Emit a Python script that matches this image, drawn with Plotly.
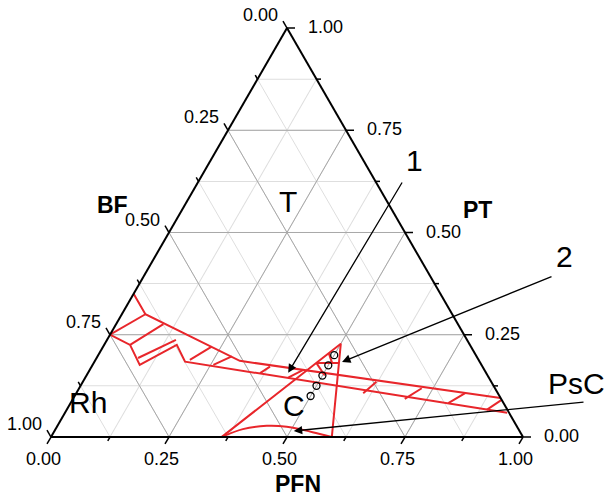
import plotly.graph_objects as go

# ---------------- axis ticks ----------------
grid_vals = [0, 0.125, 0.25, 0.375, 0.5, 0.625, 0.75, 0.875, 1.0]
label_vals = [0, 0.25, 0.5, 0.75, 1.0]
label_text = ["0.00", "0.25", "0.50", "0.75", "1.00"]
major_vals = [0.25, 0.5, 0.75]

# ---------------- data (a = PT, c = PFN, BF = 1 - PT - PFN) ----------------
# hatched band (region "1")
band_upper_PT = [0.35, 0.30, 0.186, 0.095]
band_upper_PFN = [0.0, 0.05, 0.307, 0.905]
band_lower_PT = [0.25, 0.225, 0.176, 0.225, 0.184, 0.059]
band_lower_PFN = [0.0, 0.055, 0.10, 0.154, 0.192, 0.937]
hatch_start_PT = [0.30, 0.225, 0.193, 0.1885, 0.176, 0.156, 0.145, 0.107, 0.093, 0.0825, 0.066]
hatch_start_PFN = [0.05, 0.055, 0.088, 0.200, 0.256, 0.365, 0.430, 0.608, 0.703, 0.8005, 0.890]
hatch_end_PT = [0.25, 0.276, 0.2375, 0.221, 0.197, 0.172, 0.164, 0.135, 0.119, 0.107, 0.0905]
hatch_end_PFN = [0.0, 0.10, 0.146, 0.230, 0.2845, 0.378, 0.4525, 0.622, 0.726, 0.824, 0.9095]

# triangle region "C" and its small hatched cap
tri_PT = [0.0, 0.228, 0.0]
tri_PFN = [0.362, 0.50, 0.595]
cap_start_PT = [0.181, 0.205, 0.181]
cap_start_PFN = [0.4716, 0.486, 0.4716]
cap_end_PT = [0.181, 0.181, 0.150]
cap_end_PFN = [0.5196, 0.505, 0.505]

# PsC curve
psc_PT = [0.0, 0.019, 0.027, 0.025, 0.019, 0.007, 0.0]
psc_PFN = [0.362, 0.397, 0.4435, 0.487, 0.518, 0.566, 0.595]

# compositions (open circles)
pts_PT = [0.10, 0.125, 0.15, 0.175, 0.20]
pts_PFN = [0.5, 0.5, 0.5, 0.5, 0.5]

RED = "#e8262b"
FONT = "Liberation Sans, Arial, sans-serif"

fig = go.Figure()


def join_segments(s_a, s_c, e_a, e_c):
    A, C = [], []
    for a0, c0, a1, c1 in zip(s_a, s_c, e_a, e_c):
        A += [a0, a1, None]
        C += [c0, c1, None]
    return A, C


# major grid lines (from the tick values)
gA, gB, gC = [], [], []
for v in major_vals:
    gA += [v, v, None, 1 - v, 0, None, 1 - v, 0, None]
    gB += [1 - v, 0, None, v, v, None, 0, 1 - v, None]
    gC += [0, 1 - v, None, 0, 1 - v, None, v, v, None]
fig.add_trace(go.Scatterternary(a=gA, b=gB, c=gC, mode="lines",
                                line=dict(color="#a8a8a8", width=1),
                                hoverinfo="skip", showlegend=False))

line_style = dict(color=RED, width=2)
fig.add_trace(go.Scatterternary(a=band_upper_PT, c=band_upper_PFN, mode="lines",
                                line=line_style, showlegend=False))
fig.add_trace(go.Scatterternary(a=band_lower_PT, c=band_lower_PFN, mode="lines",
                                line=line_style, showlegend=False))
hA, hC = join_segments(hatch_start_PT, hatch_start_PFN, hatch_end_PT, hatch_end_PFN)
fig.add_trace(go.Scatterternary(a=hA, c=hC, mode="lines", line=line_style,
                                connectgaps=False, showlegend=False))
fig.add_trace(go.Scatterternary(a=tri_PT, c=tri_PFN, mode="lines",
                                line=line_style, showlegend=False))
kA, kC = join_segments(cap_start_PT, cap_start_PFN, cap_end_PT, cap_end_PFN)
fig.add_trace(go.Scatterternary(a=kA, c=kC, mode="lines", line=line_style,
                                connectgaps=False, showlegend=False))
fig.add_trace(go.Scatterternary(a=psc_PT, c=psc_PFN, mode="lines",
                                line=dict(color=RED, width=2, shape="spline"),
                                showlegend=False))
fig.add_trace(go.Scatterternary(a=pts_PT, c=pts_PFN, mode="markers",
                                marker=dict(symbol="circle-open", size=7,
                                            color="black", line=dict(width=1.3)),
                                showlegend=False))

axis_common = dict(
    tickvals=grid_vals, showticklabels=False, ticks="",
    linecolor="black", linewidth=2,
    gridcolor="#dedede", gridwidth=1, showgrid=True, title=dict(text=""),
)

# plot area geometry (pixels)
L, R, T, B = 51, 86, 28, 59
W, H = 609 - L - R, 496 - T - B


def paper(x, y):
    return (x - L) / W, (T + H - y) / H


def tern_px(pt, pfn):
    # pixel position of a composition inside the ternary domain
    return L + W * (pfn + 0.5 * pt), T + H - pt * H


annos = []
shapes = []
SQ = 0.8660254


def add_tick(x0, y0, dx, dy, length):
    xa, ya = paper(x0, y0)
    xb, yb = paper(x0 + dx * length, y0 + dy * length)
    shapes.append(dict(type="line", xref="paper", yref="paper", x0=xa, y0=ya, x1=xb, y1=yb,
                       line=dict(color="black", width=1.5), layer="above"))


for v in grid_vals:
    ln = 8 if v in label_vals else 4.5
    # left axis (BF = v): PT = 1 - v, PFN = 0 ; ticks point up-left
    x, y = tern_px(1 - v, 0)
    add_tick(x, y, -0.5, -SQ, ln)
    # right axis (PT = v): PFN = 1 - v ; ticks point right
    x, y = tern_px(v, 1 - v)
    add_tick(x, y, 1, 0, ln)
    # bottom axis (PFN = v): PT = 0 ; ticks point down-left
    x, y = tern_px(0, v)
    add_tick(x, y, -0.5, SQ, ln)


def add_text(text, x, y, size, xanchor="center", yanchor="middle", bold=False):
    xx, yy = paper(x, y)
    annos.append(dict(x=xx, y=yy, xref="paper", yref="paper",
                      text=("<b>%s</b>" % text) if bold else text,
                      showarrow=False, xanchor=xanchor, yanchor=yanchor,
                      font=dict(size=size, family=FONT, color="black")))


for v, txt in zip(label_vals, label_text):
    # BF labels on the left edge
    x, y = tern_px(1 - v, 0)
    add_text(txt, x - 4 - 3, y - 7 - 6, 18, xanchor="right")
    # PT labels on the right edge
    x, y = tern_px(v, 1 - v)
    add_text(txt, x + 8 + 11, y - 1, 18, xanchor="left")
    # PFN labels on the bottom edge
    x, y = tern_px(0, v)
    add_text(txt, x - 4 - 4, y + 7 + 15, 18)

for text, x, y, size, bold in [
    ("T", 288, 202, 30, False), ("Rh", 88, 402, 30, False),
    ("C", 294, 405, 30, False), ("PsC", 576, 383, 30, False),
    ("1", 414, 160, 30, False), ("2", 564, 256, 30, False),
    ("BF", 112, 205, 23, True), ("PT", 477, 210, 23, True),
    ("PFN", 298, 484, 23, True),
]:
    add_text(text, x, y, size, bold=bold)

# arrows: tip at a ternary composition, tail in pixels
arrow_tip_PT = [0.157, 0.1836, 0.0147]
arrow_tip_PFN = [0.424, 0.5248, 0.507]
arrow_tail_px = [(403, 181), (553, 276), (585, 402)]
for a, c, (tx, ty) in zip(arrow_tip_PT, arrow_tip_PFN, arrow_tail_px):
    tipx, tipy = tern_px(a, c)
    xx, yy = paper(tipx, tipy)
    annos.append(dict(x=xx, y=yy, xref="paper", yref="paper", text="",
                      showarrow=True, arrowhead=2, arrowsize=1.3, arrowwidth=1.3,
                      arrowcolor="black", ax=tx - tipx, ay=ty - tipy, standoff=0))

fig.update_layout(
    width=609, height=496,
    margin=dict(l=L, r=R, t=T, b=B),
    paper_bgcolor="white", plot_bgcolor="white",
    ternary=dict(sum=1, bgcolor="white", domain=dict(x=[0, 1], y=[0, 1]),
                 aaxis=axis_common, baxis=axis_common, caxis=axis_common),
    annotations=annos,
    shapes=shapes,
    showlegend=False,
)

fig.write_html("out.html", config={"displayModeBar": False},
               post_script="document.body.style.margin='0';")
